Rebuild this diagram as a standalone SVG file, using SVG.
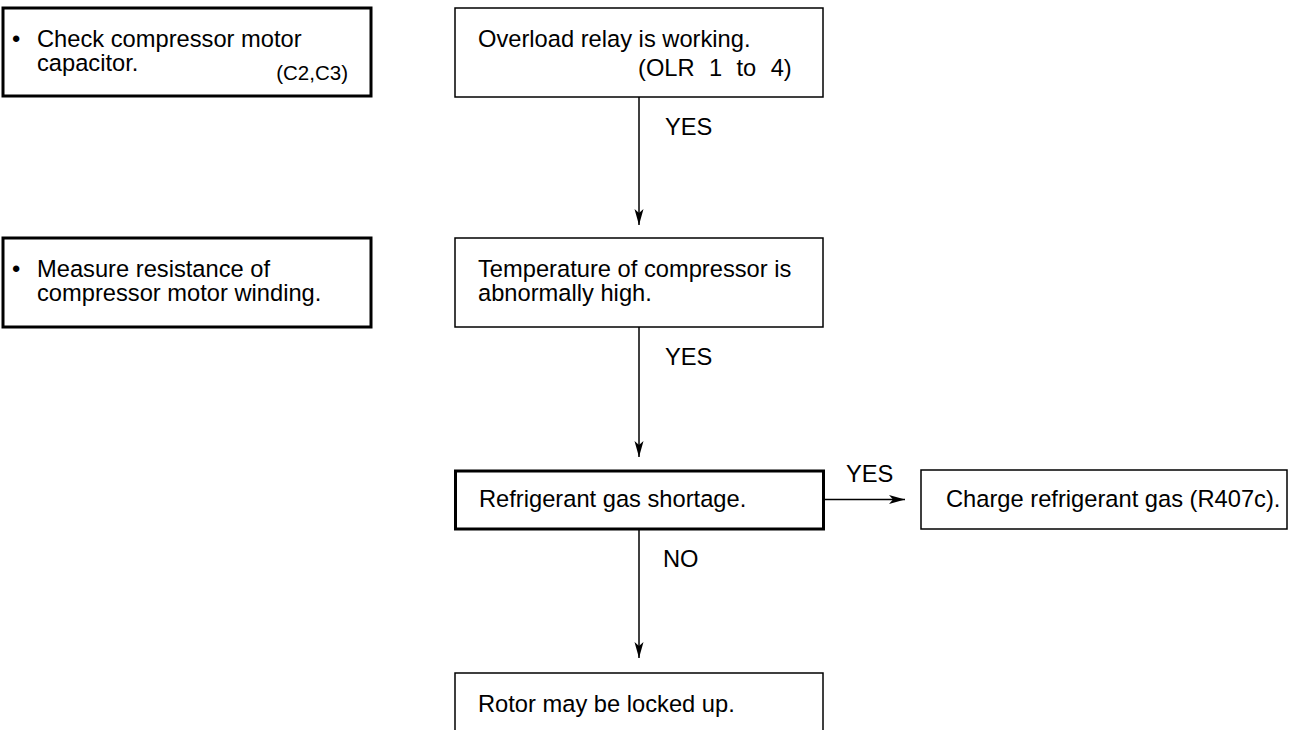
<svg xmlns="http://www.w3.org/2000/svg" width="1294" height="730" viewBox="0 0 1294 730">
<style>
text{font-family:"Liberation Sans",Arial,Helvetica,sans-serif;font-size:23.7px;fill:#000}
.thin{fill:#fff;stroke:#000;stroke-width:1.5}
.thick{fill:#fff;stroke:#000;stroke-width:3}
.conn{fill:none;stroke:#000;stroke-width:1.5}
.small{font-size:20.5px}
</style>
<defs>
<marker id="arr" viewBox="0 0 16 10" refX="16" refY="5" markerWidth="16" markerHeight="10" orient="auto" markerUnits="userSpaceOnUse">
<path d="M0,0.5 L16,5 L0,9.5 L4,5 Z" fill="#000"/>
</marker>
</defs>
<rect width="1294" height="730" fill="#fff"/>
<g id="connectors">
<line class="conn" x1="639" y1="97" x2="639" y2="225" marker-end="url(#arr)"/>
<line class="conn" x1="639" y1="327" x2="639" y2="457" marker-end="url(#arr)"/>
<line class="conn" x1="639" y1="529" x2="639" y2="658" marker-end="url(#arr)"/>
<line class="conn" x1="823" y1="499.5" x2="905" y2="499.5" marker-end="url(#arr)"/>
<text x="665" y="135">YES</text>
<text x="665" y="365">YES</text>
<text x="846" y="482">YES</text>
<text x="663" y="567">NO</text>
</g>
<g id="note-capacitor">
<rect class="thick" x="3" y="8" width="368" height="88"/>
<text x="12" y="47">•</text>
<text x="37" y="47">Check compressor motor</text>
<text x="37" y="71">capacitor.</text>
<text class="small" x="348" y="80" text-anchor="end">(C2,C3)</text>
</g>
<g id="node-overload">
<rect class="thin" x="455" y="8" width="368" height="89"/>
<text x="478" y="47">Overload relay is working.</text>
<text x="638" y="76" word-spacing="7.8">(OLR 1 to 4)</text>
</g>
<g id="note-winding">
<rect class="thick" x="3" y="238" width="368" height="89"/>
<text x="12" y="276.5">•</text>
<text x="37" y="276.5">Measure resistance of</text>
<text x="37" y="300.5">compressor motor winding.</text>
</g>
<g id="node-temperature">
<rect class="thin" x="455" y="238" width="368" height="89"/>
<text x="478" y="276.5">Temperature of compressor is</text>
<text x="478" y="300.5">abnormally high.</text>
</g>
<g id="node-refrigerant">
<rect class="thick" x="455.5" y="471" width="368" height="58"/>
<text x="479" y="507">Refrigerant gas shortage.</text>
</g>
<g id="node-charge">
<rect class="thin" x="921" y="470" width="366" height="59"/>
<text x="946" y="507">Charge refrigerant gas (R407c).</text>
</g>
<g id="node-rotor">
<rect class="thin" x="455" y="673" width="368" height="80"/>
<text x="478" y="712">Rotor may be locked up.</text>
</g>
</svg>
